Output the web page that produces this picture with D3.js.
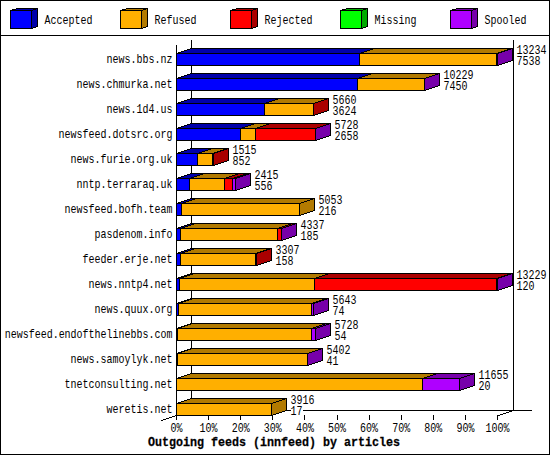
<!DOCTYPE html>
<html>
<head>
<meta charset="utf-8">
<title>Outgoing feeds</title>
<script src="https://d3js.org/d3.v7.min.js"></script>
<style>
html, body { margin: 0; padding: 0; background: #fff; }
svg { display: block; }
text { font-family: "Liberation Mono", monospace; font-size: 12px; fill: #000; }
.title { font-weight: bold; font-size: 13px; stroke: #000; stroke-width: 0.25px; }
</style>
</head>
<body>
<div id="chart"></div>
<script>
var hosts = ["news.bbs.nz", "news.chmurka.net", "news.1d4.us", "newsfeed.dotsrc.org",
  "news.furie.org.uk", "nntp.terraraq.uk", "newsfeed.bofh.team", "pasdenom.info",
  "feeder.erje.net", "news.nntp4.net", "news.quux.org", "newsfeed.endofthelinebbs.com",
  "news.samoylyk.net", "tnetconsulting.net", "weretis.net"];

var seriesNames = ["Accepted", "Refused", "Rejected", "Missing", "Spooled"];
var frontColors = ["#0000ff", "#ffaf00", "#ff0000", "#00ff00", "#af00ff"];
var shadeColors = ["#0000aa", "#b27a00", "#aa0000", "#00aa00", "#7700aa"];

var accepted = [7538, 7450, 3624, 2658, 852, 556, 216, 185, 158, 120, 74, 54, 41, 20, 17];
var refused  = [5662, 2765, 2016, 591, 650, 1415, 4837, 3971, 3119, 5577, 5511, 5520, 5340, 10114, 3899];
var rejected = [0, 0, 20, 2473, 13, 330, 0, 164, 30, 7515, 0, 0, 0, 0, 0];
var missing  = [0, 0, 0, 0, 0, 0, 0, 0, 0, 0, 0, 0, 0, 0, 0];
var spooled  = [34, 14, 0, 6, 0, 114, 0, 17, 0, 17, 58, 154, 21, 1521, 0];
var totals   = [13234, 10229, 5660, 5728, 1515, 2415, 5053, 4337, 3307, 13229, 5643, 5728, 5402, 11655, 3916];

var percentTicks = [0, 10, 20, 30, 40, 50, 60, 70, 80, 90, 100];

var width = 550, height = 455;
var depthX = 15, depthY = 5;

var svg = d3.select("#chart").append("svg")
  .attr("width", width).attr("height", height)
  .attr("shape-rendering", "crispEdges");

var x = d3.scaleLinear().domain([0, d3.max(totals)]).range([176.5, 497.5]);
var xPct = d3.scaleLinear().domain([0, 100]).range([176, 497]);
var y = d3.scalePoint().domain(hosts).range([53.5, 403.5]);
var barH = 12;

// frame and legend rule
svg.append("rect").attr("x", 0.5).attr("y", 0.5).attr("width", width - 1).attr("height", height - 1)
  .attr("fill", "#fff").attr("stroke", "#000");
svg.append("line").attr("x1", 0).attr("x2", width).attr("y1", 35.5).attr("y2", 35.5).attr("stroke", "#000");

// legend
var legend = svg.selectAll("g.legend").data(seriesNames).enter().append("g")
  .attr("class", "legend")
  .attr("transform", function(d, i) { return "translate(" + (i * 110) + ",0)"; });
legend.append("polygon")
  .attr("points", "10.5,10.5 17.5,8.5 37.5,8.5 31.5,10.5")
  .attr("fill", function(d, i) { return shadeColors[i]; }).attr("stroke", "#000");
legend.append("polygon")
  .attr("points", "31.5,10.5 37.5,8.5 37.5,26.5 31.5,28.5")
  .attr("fill", function(d, i) { return shadeColors[i]; }).attr("stroke", "#000");
legend.append("rect")
  .attr("x", 10.5).attr("y", 10.5).attr("width", 21).attr("height", 18)
  .attr("fill", function(d, i) { return frontColors[i]; }).attr("stroke", "#000");
legend.append("text").attr("x", 44.5).attr("y", 24).text(function(d) { return d; });

// walls
var walls = svg.append("g").attr("stroke", "#000").attr("fill", "none");
walls.append("line").attr("x1", 176.5).attr("x2", 176.5).attr("y1", 45).attr("y2", 416);
walls.append("line").attr("x1", 191.5).attr("x2", 191.5).attr("y1", 40).attr("y2", 410);
walls.append("line").attr("x1", 513.5).attr("x2", 513.5).attr("y1", 40).attr("y2", 410);
walls.append("line").attr("x1", 191).attr("x2", 532).attr("y1", 410.5).attr("y2", 410.5);
walls.append("line").attr("x1", 161.5).attr("y1", 420.5).attr("x2", 191.5).attr("y2", 410.5);
walls.append("line").attr("x1", 498.5).attr("y1", 415.5).attr("x2", 513.5).attr("y2", 410.5);

// percent axis
var axis = svg.append("g").attr("transform", "translate(0,415)")
  .call(d3.axisBottom(xPct).tickValues(percentTicks).tickSize(5).tickPadding(3)
    .tickFormat(function(d) { return d + "%"; }));
axis.select(".domain").remove();
axis.attr("font-family", null).attr("font-size", null);

var rows = [accepted, refused, rejected, missing, spooled];

// bars, top row first
hosts.forEach(function(host, r) {
  var g = svg.append("g").attr("stroke", "#000");
  var top = y(host);
  var used = 0, last = 0;
  rows.forEach(function(values, s) {
    var v = values[r];
    if (v <= 0) return;
    var x0 = Math.round(x(used) - 0.5) + 0.5;
    var x1 = Math.round(x(used + v) - 0.5) + 0.5;
    used += v;
    last = s;
    g.append("polygon")
      .attr("points", [[x0, top], [x0 + depthX, top - depthY], [x1 + depthX, top - depthY], [x1, top]].join(" "))
      .attr("fill", shadeColors[s]);
    g.append("rect")
      .attr("x", x0).attr("y", top).attr("width", x1 - x0).attr("height", barH)
      .attr("fill", frontColors[s]);
  });
  var xe = Math.round(x(used) - 0.5) + 0.5;
  g.append("polygon")
    .attr("points", [[xe, top], [xe + depthX, top - depthY], [xe + depthX, top + barH - depthY], [xe, top + barH]].join(" "))
    .attr("fill", shadeColors[last]);

  // host name
  svg.append("text").attr("x", 172.5).attr("y", top + 9.5).attr("text-anchor", "end").text(host);

  // total and accepted count, two lines of one text
  var tx = xe + depthX + 4;
  var a = String(accepted[r]);
  svg.append("rect").attr("x", tx).attr("y", top + 2.5).attr("width", a.length * 6).attr("height", 10).attr("fill", "#fff");
  var label = svg.append("text").attr("x", tx).attr("y", top + 0.5);
  label.append("tspan").attr("x", tx).text(totals[r]);
  label.append("tspan").attr("x", tx).attr("dy", 11).text(a);
});

svg.append("text").attr("class", "title").attr("x", 274).attr("y", 446)
  .attr("text-anchor", "middle").text("Outgoing feeds (innfeed) by articles");

// squeeze the tall glyphs to the 6px (title 7px) cell of the original
svg.selectAll("text").each(function() {
  var t = d3.select(this);
  var k = t.classed("title") ? 7 / 7.8 : 6 / 7.2;
  var px = +t.attr("x") || 0;
  t.attr("transform", "translate(" + px + ",0) scale(" + k + ",1) translate(" + (-px) + ",0)");
});
</script>
</body>
</html>
